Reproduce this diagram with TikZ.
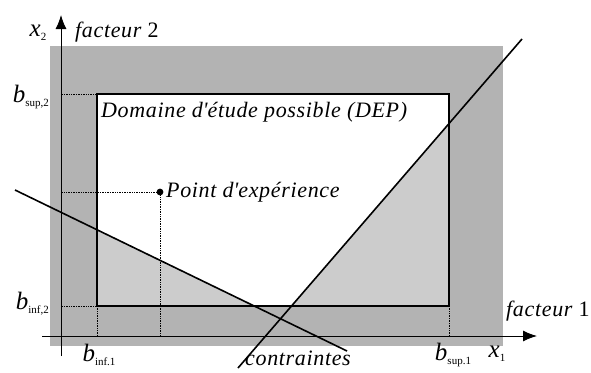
\documentclass[tikz,border=0pt]{standalone}
\usepackage{fontspec}
\setmainfont{Liberation Serif}
\newfontfamily\lblfont[LetterSpace=3]{Liberation Serif}
\usepackage{xcolor}
\usepackage{tikz}
\usetikzlibrary{arrows.meta,positioning}
\definecolor{horsdom}{RGB}{179,179,179}
\definecolor{exclu}{RGB}{204,204,204}
\newcommand{\borne}[2]{\textit{#1}{\fontsize{11}{12}\selectfont\raisebox{-4pt}{#2}}}

\begin{document}
\begin{tikzpicture}[x=1pt,y=-1pt,>={Latex[length=14pt,width=11pt]},
  lbl/.style={font=\lblfont\fontsize{22}{26}\selectfont\itshape,inner sep=1pt},
  bnd/.style={font=\fontsize{25}{28}\selectfont,inner sep=1pt},
  guide/.style={densely dotted,line width=0.7pt},
  contr/.style={line width=1.6pt},
  axe/.style={line width=1pt}]
\useasboundingbox (0,0) rectangle (591,372);
% fond : hors domaine
\fill[horsdom] (50,46) rectangle (503,346);
\coordinate (dep-nw) at (97,94);
\coordinate (dep-se) at (449,306);
\coordinate (dep-sw) at (97,306);
\coordinate (dep-ne) at (449,94);
\fill[white] (dep-nw) rectangle (dep-se);
% contraintes
\coordinate (c1a) at (15,190);
\coordinate (c1b) at (347,351);
\coordinate (c2a) at (238,368);
\coordinate (c2b) at (522,39);
\fill[exclu] (intersection of c1a--c1b and dep-nw--dep-sw) -- (dep-sw)
  -- (intersection of c1a--c1b and dep-sw--dep-se) -- cycle;
\fill[exclu] (intersection of c2a--c2b and dep-sw--dep-se) -- (dep-se)
  -- (intersection of c2a--c2b and dep-ne--dep-se) -- cycle;
\draw[line width=1.6pt] (dep-nw) rectangle (dep-se);
% axes
\coordinate (yb) at (61,356);
\coordinate (yt) at (61,15);
\coordinate (xl) at (42,336);
\coordinate (xr) at (537,336);
\draw[axe,->] (yb) -- (yt);
\draw[axe,->] (xl) -- (xr);
% point d'experience
\coordinate (pt) at (160,192);
\fill (pt) circle (3.4);
\draw[guide] (pt) -- (pt -| yb);
\draw[guide] (pt) -- (pt |- xl);
\draw[guide] (dep-nw) -- (dep-nw -| yb);
\draw[guide] (dep-sw) -- (dep-sw -| yb);
\draw[guide] (dep-sw) -- (dep-sw |- xl);
\draw[guide] (dep-se) -- (dep-se |- xl);
\draw[contr] (c1a) -- (c1b);
\draw[contr] (c2a) -- (c2b);
% textes
\node[bnd] (x2) at (38,33) {\borne{x}{2}};
\node[lbl,anchor=west] (f2) at (74,32) {facteur \upshape 2};
\node[bnd,anchor=east] (bs2) at (50,97) {\borne{b}{sup,2}};
\node[bnd,anchor=east] (bi2) at (50,304) {\borne{b}{inf,2}};
\node[bnd] (bi1) at (99,355) {\borne{b}{inf.1}};
\node[bnd] (bs1) at (453,355) {\borne{b}{sup.1}};
\node[bnd] (x1) at (497,354) {\borne{x}{1}};
\node[lbl,anchor=west] (f1) at (505,311) {facteur \upshape 1};
\node[lbl] (ctr) at (298,358) {contraintes};
\node[lbl,anchor=west] (dep) at (100,112) {Domaine d\textquotesingle étude possible (DEP)};
\node[lbl,anchor=west] (ptl) at (165,192) {Point d\textquotesingle expérience};
\end{tikzpicture}
\end{document}
